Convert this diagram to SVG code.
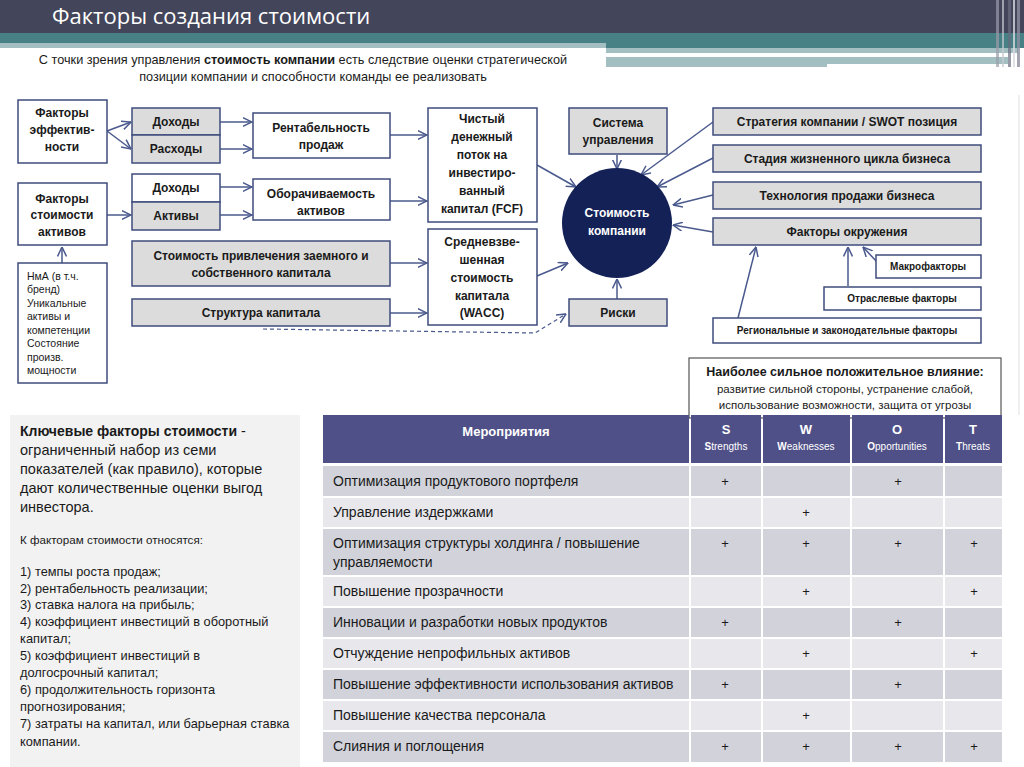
<svg xmlns="http://www.w3.org/2000/svg" width="1024" height="767" viewBox="0 0 1024 767">
<defs>
<marker id="arr" viewBox="0 0 10 10" refX="9.5" refY="5" markerWidth="10" markerHeight="10" markerUnits="userSpaceOnUse" orient="auto">
<path d="M0,0.5 L9.5,5 L0,9.5" fill="none" stroke="#4b5a8e" stroke-width="1.5"/>
</marker>
<style>
text{font-family:"Liberation Sans",Arial,sans-serif;}
.box{fill:#ffffff;stroke:#3f4c7e;stroke-width:1.5;}
.gbox{fill:#dcdcdc;stroke:#3f4c7e;stroke-width:1.5;}
.bt{font-size:12px;font-weight:bold;fill:#1a1a1a;text-anchor:middle;}
.st{font-size:10px;font-weight:bold;fill:#1a1a1a;text-anchor:middle;}
.sm{font-size:10.5px;fill:#1a1a1a;}
.con{fill:none;stroke:#4b5a8e;stroke-width:1.5;marker-end:url(#arr);}
.dash{fill:none;stroke:#4b5a8e;stroke-width:1.2;stroke-dasharray:4 3;marker-end:url(#arr);}
.rd{fill:#d2d3da;}
.rl{fill:#e8e8ec;}
.hd{fill:#4f5088;}
.td{font-size:14px;fill:#1a1a1a;}
.pl{font-size:13px;fill:#1a1a1a;text-anchor:middle;}
.hw{fill:#ffffff;text-anchor:middle;}
.pt{font-size:14.5px;fill:#1a1a1a;}
.lt{font-size:12.8px;fill:#1a1a1a;}
</style>
</defs>
<rect width="1024" height="767" fill="#ffffff"/>
<g id="header">
<rect x="0" y="0" width="1024" height="33" fill="#43455a"/>
<rect x="0" y="33" width="1024" height="15" fill="#478185"/>
<rect x="0" y="43" width="606" height="5" fill="#a4bfc2"/>
<rect x="606" y="48" width="412" height="5" fill="#a4bfc2"/>
<rect x="606" y="53" width="344" height="4" fill="#ffffff"/>
<rect x="606" y="57" width="402" height="10" fill="#a4bfc2"/>
<rect x="827" y="64" width="181" height="4" fill="#ffffff"/>
<rect x="996" y="0" width="3" height="67" fill="#9a9cab" opacity="0.7"/>
<rect x="1002" y="0" width="2" height="67" fill="#c8c9d2" opacity="0.7"/>
<rect x="1008" y="0" width="3" height="67" fill="#6a6c80" opacity="0.7"/>
<rect x="1013" y="0" width="2" height="67" fill="#d8d9e0" opacity="0.8"/>
<rect x="1017" y="0" width="3" height="67" fill="#8d8fa0" opacity="0.8"/>
<text x="52" y="24" font-size="22" fill="#ffffff" style="font-family:'Open Sans','Liberation Sans',sans-serif">Факторы создания стоимости</text>
<text x="303" y="64" font-size="12.7" fill="#1a1a1a" text-anchor="middle">С точки зрения управления <tspan font-weight="bold">стоимость компании</tspan> есть следствие оценки стратегической</text>
<text x="313" y="81" font-size="12.7" fill="#1a1a1a" text-anchor="middle">позиции компании и способности команды ее реализовать</text>
<line x1="1019" y1="95" x2="1019" y2="415" stroke="#e0e0e0" stroke-width="1"/>
</g>
<g id="connectors">
<path class="con" d="M107,131 L131,122"/>
<path class="con" d="M107,131 L131,149"/>
<path class="con" d="M220,122 L252,122"/>
<path class="con" d="M220,149 L252,149"/>
<path class="con" d="M107,215 L131,215"/>
<path class="con" d="M220,187 L252,187"/>
<path class="con" d="M220,215 L252,215"/>
<path class="con" d="M62,263 L62,247"/>
<path class="con" d="M390,135 L427,135"/>
<path class="con" d="M390,201 L427,201"/>
<path class="con" d="M390,263 L427,263"/>
<path class="con" d="M390,313 L427,313"/>
<path class="dash" d="M263,329 L535,333 L566,314"/>
<path class="con" d="M537,165 L576,187"/>
<path class="con" d="M537,276 L568,263"/>
<path class="con" d="M617,155 L617,169"/>
<path class="con" d="M617,299 L617,279"/>
<path class="con" d="M713,122 L641,175"/>
<path class="con" d="M713,158 L657,187"/>
<path class="con" d="M713,195 L673,205"/>
<path class="con" d="M713,232 L673,225"/>
<path class="con" d="M877,262 L863,247"/>
<path class="con" d="M848,286 L848,247"/>
<path class="con" d="M738,318 L756,247"/>
</g>
<g id="n-factors-eff">
<rect class="box" x="18" y="100" width="89" height="63"/>
<text class="bt" x="62" y="117">Факторы</text>
<text class="bt" x="62" y="134">эффектив-</text>
<text class="bt" x="62" y="151">ности</text>
</g>
<g id="n-income1">
<rect class="gbox" x="132" y="108" width="88" height="27"/>
<text class="bt" x="176" y="126">Доходы</text>
</g>
<g id="n-expenses">
<rect class="gbox" x="132" y="135" width="88" height="28"/>
<text class="bt" x="176" y="153">Расходы</text>
</g>
<g id="n-profitability">
<rect class="box" x="253" y="113" width="137" height="45"/>
<text class="bt" x="321" y="132">Рентабельность</text>
<text class="bt" x="321" y="149">продаж</text>
</g>
<g id="n-factors-assets">
<rect class="box" x="18" y="183" width="89" height="62"/>
<text class="bt" x="62" y="203">Факторы</text>
<text class="bt" x="62" y="219">стоимости</text>
<text class="bt" x="62" y="236">активов</text>
</g>
<g id="n-income2">
<rect class="box" x="132" y="174" width="88" height="28"/>
<text class="bt" x="176" y="192">Доходы</text>
</g>
<g id="n-assets">
<rect class="gbox" x="132" y="202" width="88" height="28"/>
<text class="bt" x="176" y="220">Активы</text>
</g>
<g id="n-turnover">
<rect class="box" x="253" y="179" width="137" height="41"/>
<text class="bt" x="321" y="198">Оборачиваемость</text>
<text class="bt" x="321" y="215">активов</text>
</g>
<g id="n-cost-capital">
<rect class="gbox" x="132" y="241" width="258" height="45"/>
<text class="bt" x="261" y="260">Стоимость привлечения заемного и</text>
<text class="bt" x="261" y="277">собственного капитала</text>
</g>
<g id="n-structure">
<rect class="gbox" x="132" y="299" width="258" height="27"/>
<text class="bt" x="261" y="317">Структура капитала</text>
</g>
<g id="n-intangibles">
<rect class="box" x="18" y="263" width="89" height="120"/>
<text class="sm" x="27" y="280">НмА (в т.ч.</text>
<text class="sm" x="27" y="293">бренд)</text>
<text class="sm" x="27" y="307">Уникальные</text>
<text class="sm" x="27" y="320">активы и</text>
<text class="sm" x="27" y="334">компетенции</text>
<text class="sm" x="27" y="347">Состояние</text>
<text class="sm" x="27" y="361">произв.</text>
<text class="sm" x="27" y="374">мощности</text>
</g>
<g id="n-fcf">
<rect class="box" x="428" y="108" width="109" height="114"/>
<text class="bt" x="482" y="123">Чистый</text>
<text class="bt" x="482" y="141">денежный</text>
<text class="bt" x="482" y="159">поток на</text>
<text class="bt" x="482" y="177">инвестиро-</text>
<text class="bt" x="482" y="195">ванный</text>
<text class="bt" x="482" y="213">капитал (FCF)</text>
</g>
<g id="n-wacc">
<rect class="box" x="428" y="229" width="109" height="96"/>
<text class="bt" x="482" y="246">Средневзве-</text>
<text class="bt" x="482" y="264">шенная</text>
<text class="bt" x="482" y="282">стоимость</text>
<text class="bt" x="482" y="300">капитала</text>
<text class="bt" x="482" y="317">(WACC)</text>
</g>
<g id="n-management">
<rect class="gbox" x="569" y="108" width="98" height="46"/>
<text class="bt" x="618" y="127">Система</text>
<text class="bt" x="618" y="144">управления</text>
</g>
<g id="n-value">
<circle cx="617" cy="223" r="55" fill="#142157"/>
<text class="bt" x="617" y="217" style="fill:#ffffff">Стоимость</text>
<text class="bt" x="617" y="235" style="fill:#ffffff">компании</text>
</g>
<g id="n-risks">
<rect class="gbox" x="569" y="299" width="98" height="27"/>
<text class="bt" x="618" y="317">Риски</text>
</g>
<g id="n-strategy">
<rect class="gbox" x="713" y="108" width="268" height="27"/>
<text class="bt" x="847" y="126">Стратегия компании / SWOT позиция</text>
</g>
<g id="n-lifecycle">
<rect class="gbox" x="713" y="145" width="268" height="27"/>
<text class="bt" x="847" y="163">Стадия жизненного цикла бизнеса</text>
</g>
<g id="n-technology">
<rect class="gbox" x="713" y="182" width="268" height="27"/>
<text class="bt" x="847" y="200">Технология продажи бизнеса</text>
</g>
<g id="n-environment">
<rect class="gbox" x="713" y="218" width="268" height="27"/>
<text class="bt" x="847" y="236">Факторы окружения</text>
</g>
<g id="n-macro">
<rect class="box" x="876" y="255" width="105" height="23"/>
<text class="st" x="928" y="270">Макрофакторы</text>
</g>
<g id="n-industry">
<rect class="box" x="824" y="287" width="157" height="23"/>
<text class="st" x="902" y="302">Отраслевые факторы</text>
</g>
<g id="n-regional">
<rect class="box" x="713" y="318" width="268" height="25"/>
<text class="st" x="847" y="334">Региональные и законодательные факторы</text>
</g>
<g id="n-influence">
<rect x="689" y="358" width="312" height="60" fill="#ffffff" stroke="#555555" stroke-width="1.2"/>
<text x="845" y="376" font-size="12.5" font-weight="bold" fill="#1a1a1a" text-anchor="middle">Наиболее сильное положительное влияние:</text>
<text x="845" y="393" font-size="11.5" fill="#1a1a1a" text-anchor="middle">развитие сильной стороны, устранение слабой,</text>
<text x="845" y="409" font-size="11.5" fill="#1a1a1a" text-anchor="middle">использование возможности, защита от угрозы</text>
</g>
<g id="n-keyfactors">
<rect x="10" y="415" width="290" height="352" fill="#f2f2f2"/>
<text class="pt" x="20" y="436"><tspan font-weight="bold" font-size="14">Ключевые факторы стоимости</tspan> -</text>
<text class="pt" x="20" y="455">ограниченный набор из семи</text>
<text class="pt" x="20" y="474">показателей (как правило), которые</text>
<text class="pt" x="20" y="493">дают количественные оценки выгод</text>
<text class="pt" x="20" y="512">инвестора.</text>
<text x="20" y="544" font-size="11.6" fill="#1a1a1a">К факторам стоимости относятся:</text>
<text class="lt" x="20" y="576">1) темпы роста продаж;</text>
<text class="lt" x="20" y="593">2) рентабельность реализации;</text>
<text class="lt" x="20" y="609">3) ставка налога на прибыль;</text>
<text class="lt" x="20" y="626">4) коэффициент инвестиций в оборотный</text>
<text class="lt" x="20" y="643">капитал;</text>
<text class="lt" x="20" y="660">5) коэффициент инвестиций в</text>
<text class="lt" x="20" y="677">долгосрочный капитал;</text>
<text class="lt" x="20" y="694">6) продолжительность горизонта</text>
<text class="lt" x="20" y="711">прогнозирования;</text>
<text class="lt" x="20" y="728">7) затраты на капитал, или барьерная ставка</text>
<text class="lt" x="20" y="746">компании.</text>
</g>
<g id="n-table">
<rect class="hd" x="323" y="415" width="366" height="48"/>
<rect class="hd" x="691" y="415" width="70" height="48"/>
<rect class="hd" x="763" y="415" width="87" height="48"/>
<rect class="hd" x="852" y="415" width="91" height="48"/>
<rect class="hd" x="945" y="415" width="57" height="48"/>
<text class="hw" x="506" y="436" font-size="13" font-weight="bold">Мероприятия</text>
<text class="hw" x="726" y="434" font-size="13" font-weight="bold">S</text>
<text class="hw" x="806" y="434" font-size="13" font-weight="bold">W</text>
<text class="hw" x="897" y="434" font-size="13" font-weight="bold">O</text>
<text class="hw" x="973" y="434" font-size="13" font-weight="bold">T</text>
<text class="hw" x="726" y="450" font-size="10"><tspan font-weight="bold">S</tspan>trengths</text>
<text class="hw" x="806" y="450" font-size="10"><tspan font-weight="bold">W</tspan>eaknesses</text>
<text class="hw" x="897" y="450" font-size="10"><tspan font-weight="bold">O</tspan>pportunities</text>
<text class="hw" x="973" y="450" font-size="10"><tspan font-weight="bold">T</tspan>hreats</text>
<g class="rd">
<rect x="323" y="466" width="366" height="30"/><rect x="691" y="466" width="70" height="30"/><rect x="763" y="466" width="87" height="30"/><rect x="852" y="466" width="91" height="30"/><rect x="945" y="466" width="57" height="30"/>
<rect x="323" y="529" width="366" height="46"/><rect x="691" y="529" width="70" height="46"/><rect x="763" y="529" width="87" height="46"/><rect x="852" y="529" width="91" height="46"/><rect x="945" y="529" width="57" height="46"/>
<rect x="323" y="608" width="366" height="29"/><rect x="691" y="608" width="70" height="29"/><rect x="763" y="608" width="87" height="29"/><rect x="852" y="608" width="91" height="29"/><rect x="945" y="608" width="57" height="29"/>
<rect x="323" y="670" width="366" height="29"/><rect x="691" y="670" width="70" height="29"/><rect x="763" y="670" width="87" height="29"/><rect x="852" y="670" width="91" height="29"/><rect x="945" y="670" width="57" height="29"/>
<rect x="323" y="732" width="366" height="30"/><rect x="691" y="732" width="70" height="30"/><rect x="763" y="732" width="87" height="30"/><rect x="852" y="732" width="91" height="30"/><rect x="945" y="732" width="57" height="30"/>
</g>
<g class="rl">
<rect x="323" y="498" width="366" height="29"/><rect x="691" y="498" width="70" height="29"/><rect x="763" y="498" width="87" height="29"/><rect x="852" y="498" width="91" height="29"/><rect x="945" y="498" width="57" height="29"/>
<rect x="323" y="577" width="366" height="29"/><rect x="691" y="577" width="70" height="29"/><rect x="763" y="577" width="87" height="29"/><rect x="852" y="577" width="91" height="29"/><rect x="945" y="577" width="57" height="29"/>
<rect x="323" y="639" width="366" height="29"/><rect x="691" y="639" width="70" height="29"/><rect x="763" y="639" width="87" height="29"/><rect x="852" y="639" width="91" height="29"/><rect x="945" y="639" width="57" height="29"/>
<rect x="323" y="701" width="366" height="29"/><rect x="691" y="701" width="70" height="29"/><rect x="763" y="701" width="87" height="29"/><rect x="852" y="701" width="91" height="29"/><rect x="945" y="701" width="57" height="29"/>
</g>
<text class="td" x="333" y="486">Оптимизация продуктового портфеля</text>
<text class="td" x="333" y="517">Управление издержками</text>
<text class="td" x="333" y="548">Оптимизация структуры холдинга / повышение</text>
<text class="td" x="333" y="567">управляемости</text>
<text class="td" x="333" y="596">Повышение прозрачности</text>
<text class="td" x="333" y="627">Инновации и разработки новых продуктов</text>
<text class="td" x="333" y="658">Отчуждение непрофильных активов</text>
<text class="td" x="333" y="689">Повышение эффективности использования активов</text>
<text class="td" x="333" y="720">Повышение качества персонала</text>
<text class="td" x="333" y="751">Слияния и поглощения</text>
<text class="pl" x="725" y="486">+</text><text class="pl" x="898" y="486">+</text>
<text class="pl" x="806" y="517">+</text>
<text class="pl" x="725" y="548">+</text><text class="pl" x="806" y="548">+</text><text class="pl" x="898" y="548">+</text><text class="pl" x="974" y="548">+</text>
<text class="pl" x="806" y="596">+</text><text class="pl" x="974" y="596">+</text>
<text class="pl" x="725" y="627">+</text><text class="pl" x="898" y="627">+</text>
<text class="pl" x="806" y="658">+</text><text class="pl" x="974" y="658">+</text>
<text class="pl" x="725" y="689">+</text><text class="pl" x="898" y="689">+</text>
<text class="pl" x="806" y="720">+</text>
<text class="pl" x="725" y="751">+</text><text class="pl" x="806" y="751">+</text><text class="pl" x="898" y="751">+</text><text class="pl" x="974" y="751">+</text>
</g>
</svg>
